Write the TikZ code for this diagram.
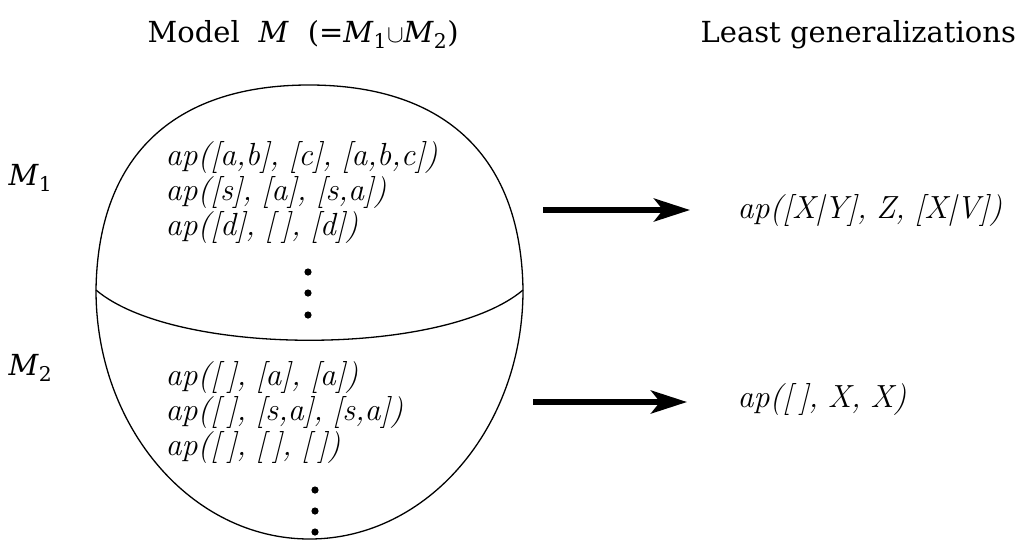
\documentclass[tikz,border=0pt]{standalone}
\usepackage{fontspec}
\newfontfamily\ttlfont{DejaVu Serif}
\usetikzlibrary{arrows.meta}
\newcommand{\argsp}{\hspace{0.3em}}
\newcommand{\emptylist}{[\hspace{0.22em}]}
\begin{document}
\begin{tikzpicture}[x=1pt,y=-1pt,line width=1.3pt,
  term/.style={font=\fontsize{32}{36}\selectfont\itshape\addfontfeature{FakeBold=0.9},anchor=base west,inner sep=0pt},
  ttl/.style={font=\fontsize{29}{32}\selectfont\ttlfont,anchor=base west,inner sep=0pt},
  fat/.style={line width=5.5pt,-{Stealth[length=36pt,width=23pt,inset=9pt]}},
  dot/.style={fill=black,draw=none}]
\useasboundingbox (0,0) rectangle (1030,542);
% titles
\node[ttl] (t1) at (147,42) {Model\hspace{0.65em}\textit{M}\hspace{0.65em}(=\textit{M}\textsubscript{1}$\cup$\textit{M}\textsubscript{2})};
\node[ttl] (t2) at (700,42) {Least generalizations};
\node[ttl] (m1) at (8,185) {\textit{M}\textsubscript{1}};
\node[ttl] (m2) at (8,375) {\textit{M}\textsubscript{2}};
% body shape
\coordinate (L) at (96,290);
\coordinate (R) at (523,290);
\coordinate (T) at (309,85);
\draw (L) .. controls (98,150) and (180,85) .. (T)
          .. controls (438,85) and (521,150) .. (R);
\draw (L) arc[start angle=180,end angle=0,x radius=213.5,y radius=249];
\draw (L) .. controls (175,357) and (444,357) .. (R);
% M1 terms
\node[term] (a1) at (165,165) {ap([a,b],\argsp[c],\argsp[a,b,c])};
\node[term] (a2) at (165,200) {ap([s],\argsp[a],\argsp[s,a])};
\node[term] (a3) at (165,235) {ap([d],\argsp\emptylist,\argsp[d])};
\foreach \y in {272,293,315} \fill[dot] (308,\y) circle[radius=3.6];
% M2 terms
\node[term] (b1) at (165,385) {ap(\emptylist,\argsp[a],\argsp[a])};
\node[term] (b2) at (165,420) {ap(\emptylist,\argsp[s,a],\argsp[s,a])};
\node[term] (b3) at (165,455) {ap(\emptylist,\argsp\emptylist,\argsp\emptylist)};
\foreach \y in {490,511,532} \fill[dot] (315,\y) circle[radius=3.6];
% generalizations
\node[term] (g1) at (737,218) {ap([X|Y],\argsp Z,\argsp[X|V])};
\node[term] (g2) at (737,407) {ap(\emptylist,\argsp X,\argsp X)};
\coordinate (s1) at (543,210);
\coordinate (s2) at (533,402);
\draw[fat,shorten >=47pt] (s1) -- (s1 -| g1.west);
\draw[fat,shorten >=50pt] (s2) -- (s2 -| g2.west);
\end{tikzpicture}
\end{document}
